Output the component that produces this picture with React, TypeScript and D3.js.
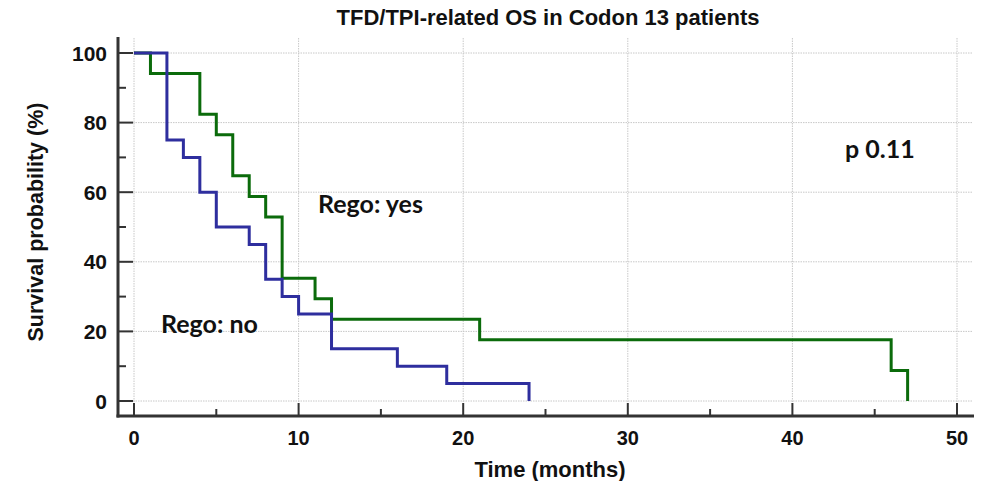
import React from "react";
import * as d3 from "d3";

const yesTimes = [0, 1, 4, 5, 6, 7, 8, 9, 11, 12, 21, 46, 47];
const yesSurv = [100, 94.1, 82.4, 76.5, 64.7, 58.8, 52.9, 35.3, 29.4, 23.5, 17.6, 8.8, 0];
const noTimes = [0, 2, 3, 4, 5, 7, 8, 9, 10, 12, 16, 19, 24];
const noSurv = [100, 75, 70, 60, 50, 45, 35, 30, 25, 15, 10, 5, 0];
const xTicks = [0, 10, 20, 30, 40, 50];
const xMinor = [5, 15, 25, 35, 45];
const yTicks = [0, 20, 40, 60, 80, 100];
const yMinor = [10, 30, 50, 70, 90];

const W = 993;
const H = 481;

export default function App() {
  const x = d3.scaleLinear().domain([0, 50]).range([134, 957]);
  const y = d3.scaleLinear().domain([0, 100]).range([401, 53]);
  const axisX = 118;
  const axisY = 416;
  const gridRight = 972;
  const gridTop = 38;

  const line = d3
    .line<[number, number]>()
    .x((d) => x(d[0]))
    .y((d) => y(d[1]))
    .curve(d3.curveStepAfter);

  const yesPts: [number, number][] = yesTimes.map((t, i) => [t, yesSurv[i]]);
  const noPts: [number, number][] = noTimes.map((t, i) => [t, noSurv[i]]);

  const tickFont = "'Liberation Sans', Arial, sans-serif";
  const annFont = "Lato, 'Open Sans', sans-serif";

  return (
    <svg
      width={W}
      height={H}
      style={{ position: "fixed", left: 0, top: 0, background: "#fff" }}
    >
      <rect x={0} y={0} width={W} height={H} fill="#fff" />
      {/* grid */}
      {xTicks.map((t) => (
        <line
          key={"gx" + t}
          x1={x(t)}
          x2={x(t)}
          y1={gridTop}
          y2={axisY}
          stroke="#c8c8c8"
          strokeWidth={1}
          strokeDasharray="1.5,1"
        />
      ))}
      {yTicks.map((t) => (
        <line
          key={"gy" + t}
          x1={axisX}
          x2={gridRight}
          y1={y(t)}
          y2={y(t)}
          stroke="#c8c8c8"
          strokeWidth={1}
          strokeDasharray="1.5,1"
        />
      ))}
      {/* curves */}
      <path d={line(yesPts) || ""} fill="none" stroke="#0b6b0b" strokeWidth={3} />
      <path d={line(noPts) || ""} fill="none" stroke="#2e2e9e" strokeWidth={3} />
      {/* axes */}
      <line x1={axisX} x2={axisX} y1={37} y2={axisY + 1.5} stroke="#333" strokeWidth={3} />
      <line x1={axisX - 1.5} x2={974} y1={axisY} y2={axisY} stroke="#333" strokeWidth={3} />
      {yTicks.map((t) => (
        <line key={"yt" + t} x1={axisX} x2={axisX + 15} y1={y(t)} y2={y(t)} stroke="#333" strokeWidth={2} />
      ))}
      {yMinor.map((t) => (
        <line key={"ym" + t} x1={axisX} x2={axisX + 8} y1={y(t)} y2={y(t)} stroke="#333" strokeWidth={2} />
      ))}
      {xTicks.map((t) => (
        <line key={"xt" + t} x1={x(t)} x2={x(t)} y1={axisY} y2={axisY - 13} stroke="#333" strokeWidth={2} />
      ))}
      {xMinor.map((t) => (
        <line key={"xm" + t} x1={x(t)} x2={x(t)} y1={axisY} y2={axisY - 7} stroke="#333" strokeWidth={2} />
      ))}
      {/* tick labels */}
      {yTicks.map((t) => (
        <text
          key={"yl" + t}
          x={107}
          y={y(t)}
          dy="0.36em"
          textAnchor="end"
          fontFamily={tickFont}
          fontWeight="bold"
          fontSize={21}
          fill="#111"
        >
          {t}
        </text>
      ))}
      {xTicks.map((t) => (
        <text
          key={"xl" + t}
          x={x(t)}
          y={445}
          textAnchor="middle"
          fontFamily={tickFont}
          fontWeight="bold"
          fontSize={20}
          fill="#111"
        >
          {t}
        </text>
      ))}
      {/* titles */}
      <text
        x={548}
        y={25}
        textAnchor="middle"
        fontFamily={tickFont}
        fontWeight="bold"
        fontSize={22}
        fill="#111"
      >
        TFD/TPI-related OS in Codon 13 patients
      </text>
      <text
        x={550}
        y={477}
        textAnchor="middle"
        fontFamily={tickFont}
        fontWeight="bold"
        fontSize={22}
        fill="#111"
      >
        Time (months)
      </text>
      <text
        transform={`translate(43,222) rotate(-90)`}
        textAnchor="middle"
        fontFamily={tickFont}
        fontWeight="bold"
        fontSize={21.5}
        fill="#111"
      >
        Survival probability (%)
      </text>
      {/* annotations */}
      <text x={318} y={213} fontFamily={annFont} fontWeight="bold" fontSize={25} fill="#111">
        Rego: yes
      </text>
      <text x={161} y={333} fontFamily={annFont} fontWeight="bold" fontSize={25} fill="#111">
        Rego: no
      </text>
      <text x={845} y={158} fontFamily={annFont} fontWeight="bold" fontSize={25} fill="#111">
        p 0.11
      </text>
    </svg>
  );
}
